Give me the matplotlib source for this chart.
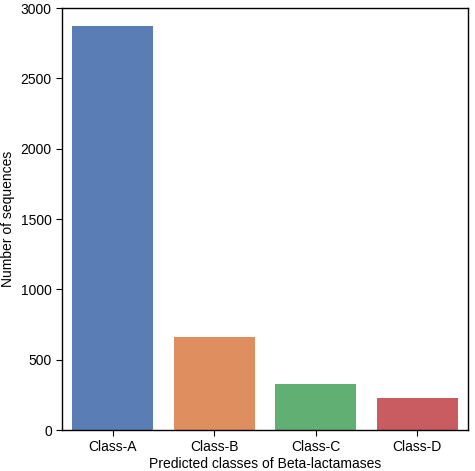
import matplotlib
matplotlib.use("Agg")
import matplotlib.pyplot as plt

categories = ["Class-A", "Class-B", "Class-C", "Class-D"]
counts = [2875, 660, 330, 225]
colors = ["#4c72b0", "#dd8452", "#55a868", "#c44e52"]

plt.rcParams['font.family'] = ['Liberation Sans', 'DejaVu Sans']
fig = plt.figure(figsize=(4.75, 4.71), dpi=100)
ax = fig.add_axes([0.131, 0.087, 0.854, 0.896])
ax.bar(categories, counts, color=colors, alpha=0.92, width=0.8)
ax.set_ylim(0, 3000)
ax.set_xlim(-0.5, 3.5)
ax.set_yticks([0, 500, 1000, 1500, 2000, 2500, 3000])
ax.set_ylabel("Number of sequences", fontsize=10)
ax.set_xlabel("Predicted classes of Beta-lactamases", fontsize=10, labelpad=2)
ax.tick_params(labelsize=10, length=4, color='black')
for s in ax.spines.values():
    s.set_color('black'); s.set_linewidth(1)
fig.savefig("out.png", dpi=100)
